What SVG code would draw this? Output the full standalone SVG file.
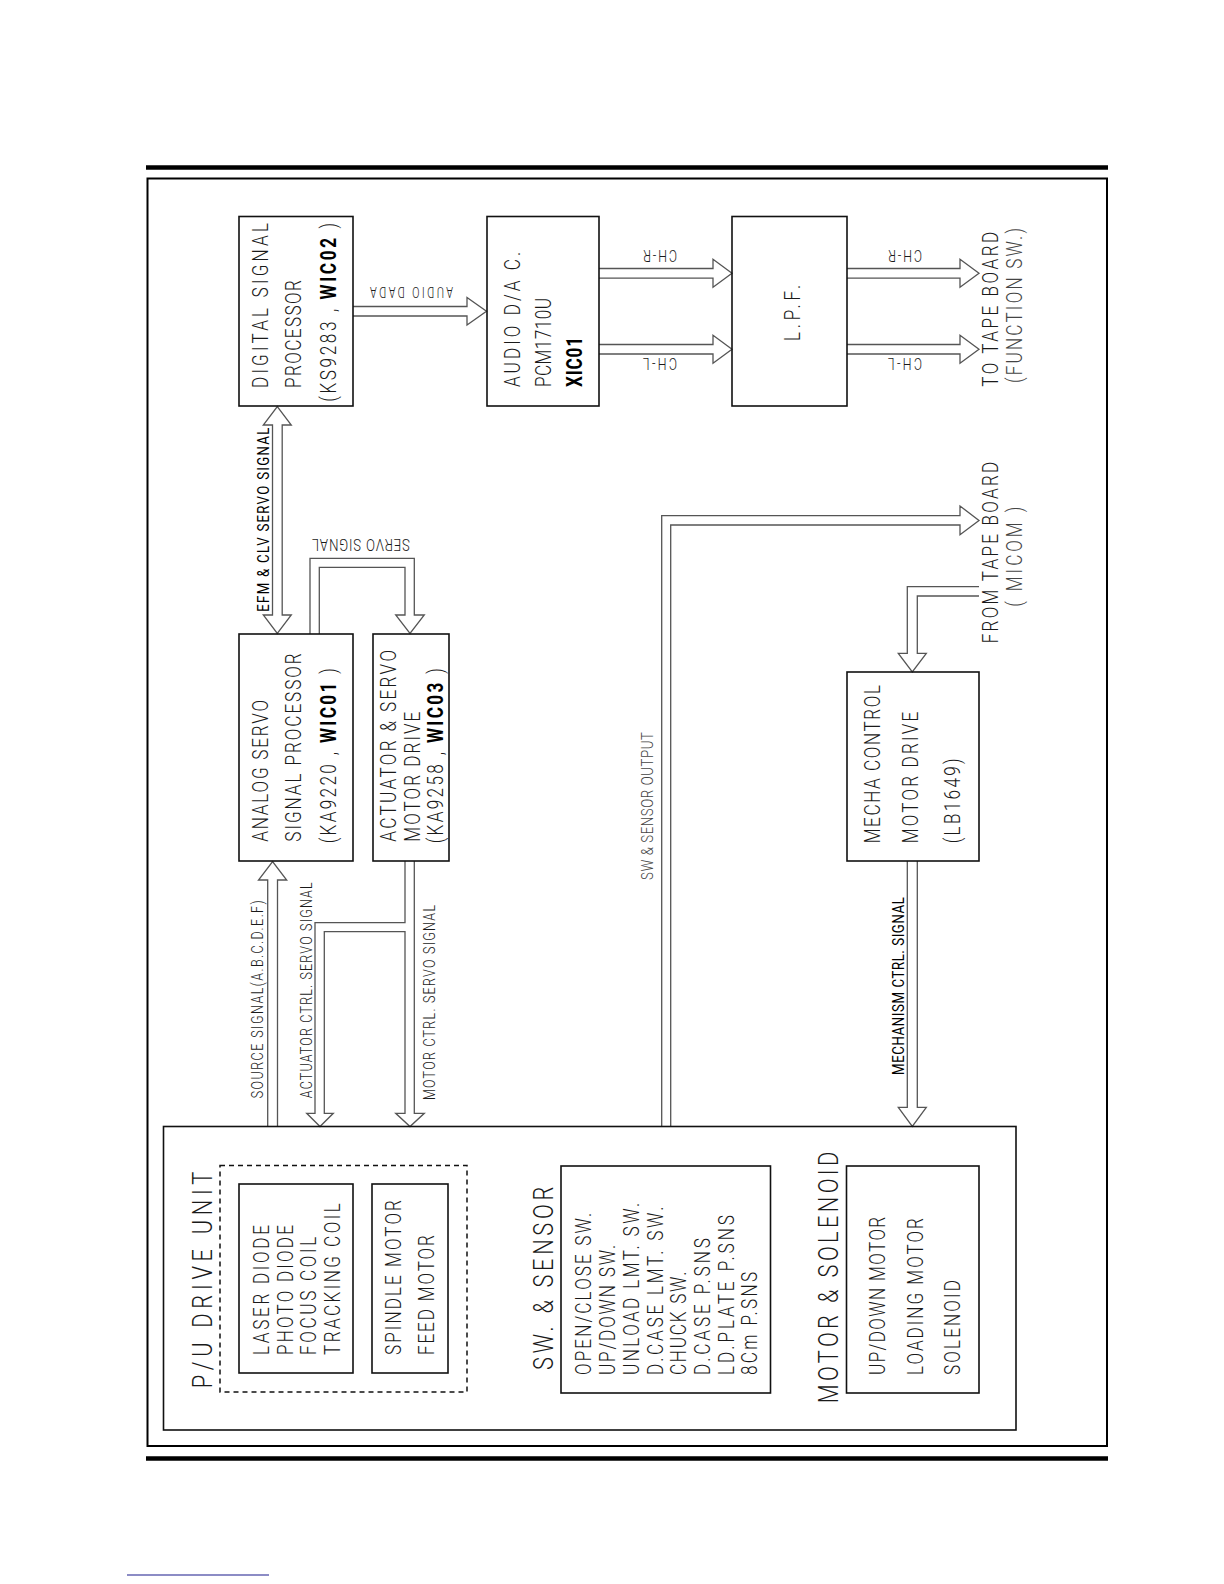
<svg xmlns="http://www.w3.org/2000/svg" width="1224" height="1584" viewBox="0 0 1224 1584">
<style>
.box{fill:none;stroke:#111;stroke-width:1.6}
.frame{fill:none;stroke:#000;stroke-width:2}
.bar{stroke:#000;stroke-width:4.5}
.dash{fill:none;stroke:#111;stroke-width:1.5;stroke-dasharray:5,4}
.arr{fill:none;stroke:#555;stroke-width:1.3;stroke-linejoin:miter}
text{font-family:Roboto,"Liberation Sans","DejaVu Sans",sans-serif;font-weight:300;fill:#1a1a1a}
.t22{font-size:22px}
.t28{font-size:28px}
.t17{font-size:17px}
.t16{font-size:16px}
.t14{font-size:14px}
.b{font-weight:700;fill:#000}
.g{fill:#444}
.k{font-weight:400;fill:#000}
</style>
<rect width="1224" height="1584" fill="#fff"/>
<line class="bar" x1="146" y1="167.5" x2="1108" y2="167.5"/>
<line class="bar" x1="146" y1="1458.5" x2="1108" y2="1458.5"/>
<rect class="frame" x="147.5" y="178.5" width="959.5" height="1267.5"/>
<line x1="127" y1="1575" x2="269" y2="1575" stroke="#1a1a8c" stroke-width="1.2"/>

<g id="connectors">
<path class="arr" d="M353,306.5 L467,306.5 L467,297.5 L486.5,311.3 L467,325 L467,316 L353,316"/>
<path class="arr" d="M599,268.5 L713,268.5 L713,259.3 L732,273.3 L713,287.3 L713,278.2 L599,278.2"/>
<path class="arr" d="M599,344.5 L713,344.5 L713,335.3 L732,349.3 L713,363.3 L713,354 L599,354"/>
<path class="arr" d="M847,268.5 L960,268.5 L960,259.3 L979,273.3 L960,287.3 L960,278.2 L847,278.2"/>
<path class="arr" d="M847,344.5 L960,344.5 L960,335.3 L979,349.3 L960,363.3 L960,354 L847,354"/>
<path class="arr" d="M272.5,425 L263.3,425 L277.3,406.5 L291.3,425 L282.2,425 L282.2,615 L291.3,615 L277.3,633.5 L263.3,615 L272.5,615 Z"/>
<path class="arr" d="M310,634 L310,558.3 L414.3,558.3 L414.3,615 L424.3,615 L410,633.5 L395.7,615 L405,615 L405,567.3 L319.3,567.3 L319.3,634"/>
<path class="arr" d="M267.7,1126.5 L267.7,880 L258.5,880 L272.6,861.5 L286.7,880 L277.5,880 L277.5,1126.5"/>
<path class="arr" d="M405,861 L405,922.7 L315,922.7 L315,1113.3 L306.7,1113.3 L320,1126.5 L333.3,1113.3 L324.3,1113.3 L324.3,931.7 L405,931.7 L405,1113.3 L395.7,1113.3 L410,1126.5 L424.3,1113.3 L414.3,1113.3 L414.3,861"/>
<path class="arr" d="M661.7,1126.5 L661.7,515.7 L960,515.7 L960,506 L979,520.4 L960,534.8 L960,525 L670.7,525 L670.7,1126.5"/>
<path class="arr" d="M979,586.7 L907.3,586.7 L907.3,653.3 L898.3,653.3 L912.3,671.8 L926.3,653.3 L917.3,653.3 L917.3,596 L979,596"/>
<path class="arr" d="M907.3,861 L907.3,1107.3 L898.3,1107.3 L912.3,1126.5 L926.3,1107.3 L917.3,1107.3 L917.3,861"/>
</g>

<g id="connector-labels">
<text class="t14" transform="translate(453,287) rotate(180) scale(0.78,1)" textLength="106.4" lengthAdjust="spacing">AUDIO DADA</text>
<text class="t16" transform="translate(677,250) rotate(180) scale(0.78,1)" textLength="43.6" lengthAdjust="spacing">CH-R</text>
<text class="t16" transform="translate(677,358) rotate(180) scale(0.78,1)" textLength="43.6" lengthAdjust="spacing">CH-L</text>
<text class="t16" transform="translate(922,250) rotate(180) scale(0.78,1)" textLength="43.6" lengthAdjust="spacing">CH-R</text>
<text class="t16" transform="translate(922,358) rotate(180) scale(0.78,1)" textLength="43.6" lengthAdjust="spacing">CH-L</text>
<text class="t17" transform="translate(410,538.5) rotate(180) scale(0.78,1)" textLength="125.6" lengthAdjust="spacing">SERVO SIGNAL</text>
<text class="t17 k" transform="translate(269.3,611.7) rotate(-90) scale(0.78,1)" textLength="235.9" lengthAdjust="spacing">EFM &amp; CLV SERVO SIGNAL</text>
<text class="t16" transform="translate(263.3,1098.3) rotate(-90) scale(0.78,1)" textLength="253.8" lengthAdjust="spacing">SOURCE SIGNAL(A.B.C.D.E.F)</text>
<text class="t16" transform="translate(311.7,1098.3) rotate(-90) scale(0.78,1)" textLength="276.9" lengthAdjust="spacing">ACTUATOR CTRL. SERVO SIGNAL</text>
<text class="t16" transform="translate(435,1100) rotate(-90) scale(0.78,1)" textLength="250" lengthAdjust="spacing">MOTOR CTRL. SERVO SIGNAL</text>
<text class="t17 g" transform="translate(652.7,880) rotate(-90) scale(0.78,1)" textLength="189.7" lengthAdjust="spacing">SW &amp; SENSOR OUTPUT</text>
<text class="t17 k" transform="translate(904,1075) rotate(-90) scale(0.78,1)" textLength="228.2" lengthAdjust="spacing">MECHANISM CTRL. SIGNAL</text>
<text class="t22" transform="translate(998.3,386.7) rotate(-90) scale(0.78,1)" textLength="198.7" lengthAdjust="spacing">TO TAPE BOARD</text>
<text class="t22 g" transform="translate(1021.7,383) rotate(-90) scale(0.78,1)" textLength="198.7" lengthAdjust="spacing">(FUNCTION SW.)</text>
<text class="t22" transform="translate(998.3,643.3) rotate(-90) scale(0.78,1)" textLength="232.8" lengthAdjust="spacing">FROM TAPE BOARD</text>
<text class="t22 g" transform="translate(1021.7,606.7) rotate(-90) scale(0.78,1)" textLength="128.2" lengthAdjust="spacing">( MICOM )</text>
</g>

<g id="dsp">
<rect class="box" x="239" y="216.5" width="114" height="189.5"/>
<text class="t22" transform="translate(268.3,388) rotate(-90) scale(0.78,1)" textLength="211.5" lengthAdjust="spacing">DIGITAL SIGNAL</text>
<text class="t22" transform="translate(300.7,388) rotate(-90) scale(0.78,1)" textLength="138.5" lengthAdjust="spacing">PROCESSOR</text>
<text class="t22" transform="translate(336,401.7) rotate(-90) scale(0.78,1)" textLength="229.1" lengthAdjust="spacing">(KS9283 , <tspan class="b">WIC02</tspan> )</text>
</g>

<g id="audio-dac">
<rect class="box" x="487" y="216.5" width="112" height="189.5"/>
<text class="t22" transform="translate(520,387) rotate(-90) scale(0.78,1)" textLength="173.1" lengthAdjust="spacing">AUDIO D/A C.</text>
<text class="t22" transform="translate(551,387) rotate(-90) scale(0.78,1)" textLength="114.1" lengthAdjust="spacing">PCM1710U</text>
<text class="t22 b" transform="translate(582,387) rotate(-90) scale(0.78,1)" textLength="64.1" lengthAdjust="spacing">XIC01</text>
</g>

<g id="lpf">
<rect class="box" x="732" y="216.5" width="115" height="189.5"/>
<text class="t22" transform="translate(800,341) rotate(-90) scale(0.78,1)" textLength="71.8" lengthAdjust="spacing">L.P.F.</text>
</g>

<g id="analog-servo">
<rect class="box" x="239" y="634" width="114" height="227"/>
<text class="t22" transform="translate(268.3,841.7) rotate(-90) scale(0.78,1)" textLength="181.7" lengthAdjust="spacing">ANALOG SERVO</text>
<text class="t22" transform="translate(300.7,841.7) rotate(-90) scale(0.78,1)" textLength="241.5" lengthAdjust="spacing">SIGNAL PROCESSOR</text>
<text class="t22" transform="translate(336,843.3) rotate(-90) scale(0.78,1)" textLength="224.4" lengthAdjust="spacing">(KA9220 , <tspan class="b">WIC01</tspan> )</text>
</g>

<g id="actuator">
<rect class="box" x="373" y="634" width="76" height="227"/>
<text class="t22" transform="translate(395.7,841.7) rotate(-90) scale(0.78,1)" textLength="245.8" lengthAdjust="spacing">ACTUATOR &amp; SERVO</text>
<text class="t22" transform="translate(420,841.7) rotate(-90) scale(0.78,1)" textLength="166.7" lengthAdjust="spacing">MOTOR DRIVE</text>
<text class="t22" transform="translate(443.3,843.3) rotate(-90) scale(0.78,1)" textLength="224.4" lengthAdjust="spacing">(KA9258 , <tspan class="b">WIC03</tspan> )</text>
</g>

<g id="mecha">
<rect class="box" x="847" y="672" width="132" height="189"/>
<text class="t22" transform="translate(880,843.3) rotate(-90) scale(0.78,1)" textLength="202.9" lengthAdjust="spacing">MECHA CONTROL</text>
<text class="t22" transform="translate(918.3,843.3) rotate(-90) scale(0.78,1)" textLength="168.7" lengthAdjust="spacing">MOTOR DRIVE</text>
<text class="t22" transform="translate(960,843.3) rotate(-90) scale(0.78,1)" textLength="109" lengthAdjust="spacing">(LB1649)</text>
</g>

<g id="pu-drive-unit">
<rect class="box" x="163.5" y="1126.5" width="852.5" height="303.5"/>
<rect class="dash" x="220" y="1165.5" width="247" height="226.5"/>
<text class="t28" transform="translate(211.7,1388.3) rotate(-90) scale(0.78,1)" textLength="277.7" lengthAdjust="spacing">P/U DRIVE UNIT</text>
<g id="pickup">
<rect class="box" x="239" y="1184" width="114" height="189"/>
<text class="t22" transform="translate(269,1355) rotate(-90) scale(0.78,1)" textLength="166.7" lengthAdjust="spacing">LASER DIODE</text>
<text class="t22" transform="translate(292.7,1355) rotate(-90) scale(0.78,1)" textLength="166.7" lengthAdjust="spacing">PHOTO DIODE</text>
<text class="t22" transform="translate(315.7,1355) rotate(-90) scale(0.78,1)" textLength="151.7" lengthAdjust="spacing">FOCUS COIL</text>
<text class="t22" transform="translate(340,1355) rotate(-90) scale(0.78,1)" textLength="194.5" lengthAdjust="spacing">TRACKING COIL</text>
</g>
<g id="motors">
<rect class="box" x="372" y="1184" width="76" height="189"/>
<text class="t22" transform="translate(400.7,1355) rotate(-90) scale(0.78,1)" textLength="198.7" lengthAdjust="spacing">SPINDLE MOTOR</text>
<text class="t22" transform="translate(434,1355) rotate(-90) scale(0.78,1)" textLength="153.8" lengthAdjust="spacing">FEED MOTOR</text>
</g>
<g id="sw-sensor">
<text class="t28" transform="translate(553,1370) rotate(-90) scale(0.78,1)" textLength="235" lengthAdjust="spacing">SW. &amp; SENSOR</text>
<rect class="box" x="561" y="1166" width="209.5" height="227"/>
<text class="t22" transform="translate(591,1375) rotate(-90) scale(0.78,1)" textLength="207.7" lengthAdjust="spacing">OPEN/CLOSE SW.</text>
<text class="t22" transform="translate(615,1375) rotate(-90) scale(0.78,1)" textLength="166.7" lengthAdjust="spacing">UP/DOWN SW.</text>
<text class="t22" transform="translate(639,1375) rotate(-90) scale(0.78,1)" textLength="220.5" lengthAdjust="spacing">UNLOAD LMT. SW.</text>
<text class="t22" transform="translate(662.5,1375) rotate(-90) scale(0.78,1)" textLength="215.8" lengthAdjust="spacing">D.CASE LMT. SW.</text>
<text class="t22" transform="translate(686,1375) rotate(-90) scale(0.78,1)" textLength="132.4" lengthAdjust="spacing">CHUCK SW.</text>
<text class="t22" transform="translate(710,1375) rotate(-90) scale(0.78,1)" textLength="175.6" lengthAdjust="spacing">D.CASE P.SNS</text>
<text class="t22" transform="translate(734,1375) rotate(-90) scale(0.78,1)" textLength="205.1" lengthAdjust="spacing">LD.PLATE P.SNS</text>
<text class="t22" transform="translate(757,1375) rotate(-90) scale(0.78,1)" textLength="132.4" lengthAdjust="spacing">8Cm P.SNS</text>
</g>
<g id="motor-solenoid">
<text class="t28" transform="translate(838,1403.3) rotate(-90) scale(0.78,1)" textLength="322.6" lengthAdjust="spacing">MOTOR &amp; SOLENOID</text>
<rect class="box" x="846.5" y="1166" width="132.5" height="227"/>
<text class="t22" transform="translate(884.6,1375) rotate(-90) scale(0.78,1)" textLength="202.9" lengthAdjust="spacing">UP/DOWN MOTOR</text>
<text class="t22" transform="translate(922.5,1375) rotate(-90) scale(0.78,1)" textLength="201.3" lengthAdjust="spacing">LOADING MOTOR</text>
<text class="t22" transform="translate(960,1375) rotate(-90) scale(0.78,1)" textLength="121.8" lengthAdjust="spacing">SOLENOID</text>
</g>
</g>
</svg>
